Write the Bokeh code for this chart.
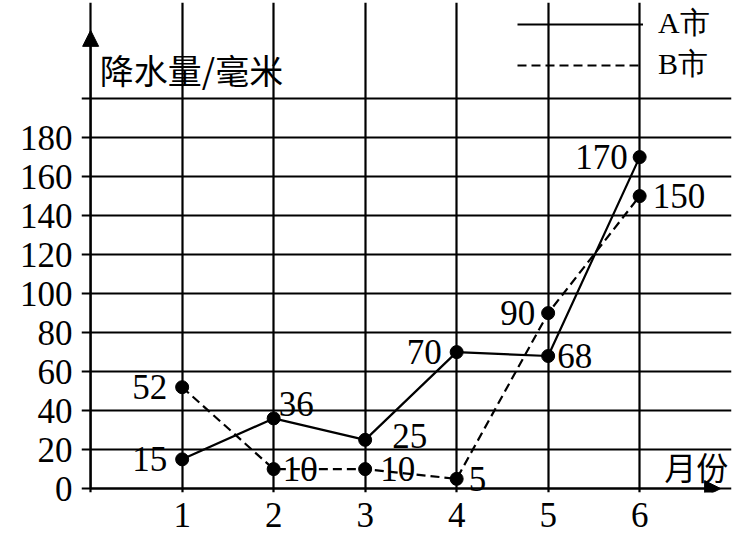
from bokeh.plotting import figure
from bokeh.models import (ColumnDataSource, FixedTicker, Arrow, NormalHead, Label,
                          Legend, LegendItem, LabelSet, Range1d)
from bokeh.embed import file_html
from bokeh.resources import INLINE

# ---- data ----
months = [1, 2, 3, 4, 5, 6]
city_a = [15, 36, 25, 70, 68, 170]
city_b = [52, 10, 10, 5, 90, 150]
x_ticks = [1, 2, 3, 4, 5, 6]
y_ticks = [0, 20, 40, 60, 80, 100, 120, 140, 160, 180]
y_title = "降水量/毫米"
x_title = "月份"
series_names = ["A市", "B市"]

# label placement styles (screen-pixel offsets, alignment)
a_dx = [-15, 5, 27, -15, 9, -12]
a_dy = [0, 14, 4, 0, 0, 0]
a_align = ["right", "left", "left", "right", "left", "right"]
b_dx = [-15, 9, 15, 12, -13, 13]
b_dy = [0, 0, 0, 0, 0, 0]
b_align = ["right", "left", "left", "left", "right", "left"]

SERIF = "Liberation Serif"
CJK = "Noto Sans CJK SC"

p = figure(width=744, height=539, output_backend="svg", toolbar_location=None,
           x_range=Range1d(-0.1, -0.1 + 650 / 91.5),
           y_range=Range1d(-2, -2 + 490 / 1.95),
           min_border_left=81, min_border_top=2, min_border_bottom=47, min_border_right=13,
           frame_width=650, frame_height=490)
p.outline_line_color = None
p.background_fill_color = "white"

# grids
p.xgrid.ticker = FixedTicker(ticks=[0, 1, 2, 3, 4, 5, 6])
p.ygrid.ticker = FixedTicker(ticks=list(range(0, 201, 20)))
p.xgrid.bounds = (0, 200)
p.ygrid.bounds = (0, 6)
for g in (p.xgrid, p.ygrid):
    g.grid_line_color = "black"
    g.grid_line_width = 2.2
    g.grid_line_alpha = 1

# axes (labels only)
for ax in (p.xaxis, p.yaxis):
    ax.axis_line_color = None
    ax.major_tick_line_color = None
    ax.minor_tick_line_color = None
    ax.major_label_text_font = SERIF
    ax.major_label_text_font_size = "35px"
    ax.major_label_text_color = "black"
p.xaxis.ticker = FixedTicker(ticks=x_ticks)
p.yaxis.ticker = FixedTicker(ticks=y_ticks)
p.xaxis.major_label_standoff = 4
p.yaxis.major_label_standoff = 3

# axis arrows
p.add_layout(Arrow(end=NormalHead(size=16, fill_color="black", line_color="black"),
                   x_start=0, y_start=0, x_end=6.885, y_end=0,
                   line_color="black", line_width=2))
p.add_layout(Arrow(end=NormalHead(size=16, fill_color="black", line_color="black"),
                   x_start=0, y_start=0, x_end=0, y_end=235,
                   line_color="black", line_width=2))

src_a = ColumnDataSource(dict(x=months, y=city_a, t=[str(v) for v in city_a],
                              dx=a_dx, dy=a_dy, al=a_align))
src_b = ColumnDataSource(dict(x=months, y=city_b, t=[str(v) for v in city_b],
                              dx=b_dx, dy=b_dy, al=b_align))

la = p.line("x", "y", source=src_a, line_color="black", line_width=2.2)
lb = p.line("x", "y", source=src_b, line_color="black", line_width=2.2, line_dash="9 5")
p.scatter("x", "y", source=src_a, size=13, color="black")
p.scatter("x", "y", source=src_b, size=13, color="black")

for src in (src_a, src_b):
    p.add_layout(LabelSet(x="x", y="y", text="t", source=src, x_offset="dx", y_offset="dy",
                          text_align="al", text_baseline="middle",
                          text_font=SERIF, text_font_size="35px", text_color="black"))

# titles
p.add_layout(Label(x=0.1, y=215, text=y_title, text_font=CJK, text_font_size="34px",
                   text_baseline="middle", text_align="left", text_color="black"))
p.add_layout(Label(x=6.27, y=11.5, text=x_title, text_font=CJK, text_font_size="32px",
                   text_baseline="middle", text_align="left", text_color="black"))

legend = Legend(items=[LegendItem(label=series_names[0], renderers=[la]),
                       LegendItem(label=series_names[1], renderers=[lb])],
                location=(436, 407), glyph_width=126, glyph_height=30, label_height=30,
                label_standoff=15, padding=0, margin=0, spacing=0,
                border_line_color=None, background_fill_alpha=0,
                label_text_font=SERIF, label_text_font_size="30px", label_text_color="black")
p.add_layout(legend, "center")

open("out.html", "w").write(file_html(p, INLINE))
